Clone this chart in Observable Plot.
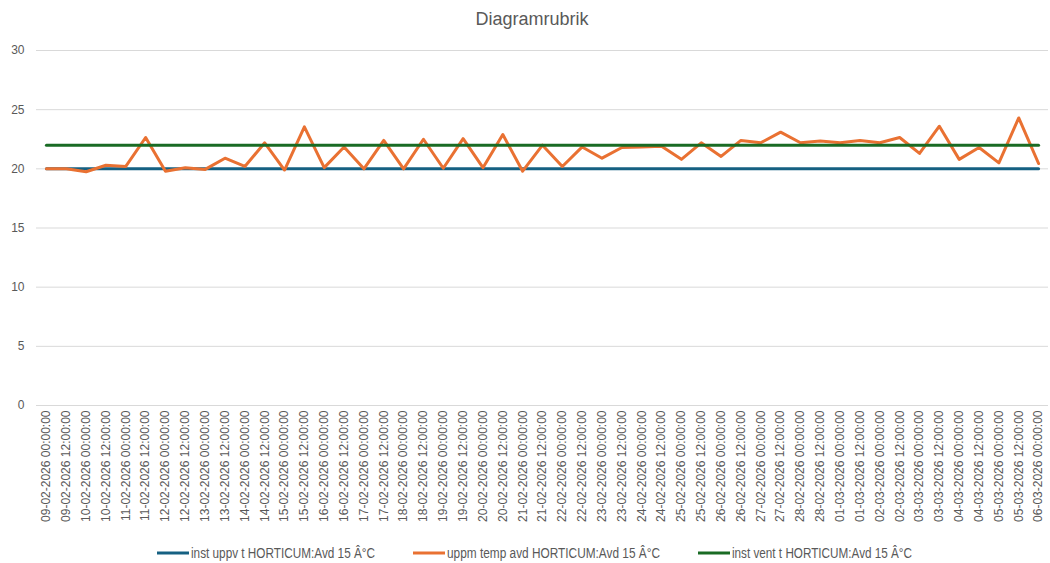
<!DOCTYPE html>
<html>
<head>
<meta charset="utf-8">
<script src="https://cdn.jsdelivr.net/npm/d3@7"></script>
<script src="https://cdn.jsdelivr.net/npm/@observablehq/plot@0.6"></script>
<style>
  html, body { margin: 0; padding: 0; background: #fff; }
  #wrap { position: relative; width: 1050px; height: 563px; overflow: hidden; font-family: "Liberation Sans", Arial, sans-serif; }
  #title { position: absolute; left: 0; top: 0; width: 1064px; height: 36px; line-height: 38px; text-align: center; font-size: 18px; color: #595959; }
  #chart { position: absolute; left: 0; top: 36px; }
  #legend { position: absolute; left: 0; top: 541px; }
</style>
</head>
<body>
<div id="wrap">
  <div id="title">Diagramrubrik</div>
  <div id="chart"></div>
  <div id="legend"></div>
</div>
<script>
// Category labels (every 12 hours)
const categories = [
  "09-02-2026 00:00:00","09-02-2026 12:00:00","10-02-2026 00:00:00","10-02-2026 12:00:00",
  "11-02-2026 00:00:00","11-02-2026 12:00:00","12-02-2026 00:00:00","12-02-2026 12:00:00",
  "13-02-2026 00:00:00","13-02-2026 12:00:00","14-02-2026 00:00:00","14-02-2026 12:00:00",
  "15-02-2026 00:00:00","15-02-2026 12:00:00","16-02-2026 00:00:00","16-02-2026 12:00:00",
  "17-02-2026 00:00:00","17-02-2026 12:00:00","18-02-2026 00:00:00","18-02-2026 12:00:00",
  "19-02-2026 00:00:00","19-02-2026 12:00:00","20-02-2026 00:00:00","20-02-2026 12:00:00",
  "21-02-2026 00:00:00","21-02-2026 12:00:00","22-02-2026 00:00:00","22-02-2026 12:00:00",
  "23-02-2026 00:00:00","23-02-2026 12:00:00","24-02-2026 00:00:00","24-02-2026 12:00:00",
  "25-02-2026 00:00:00","25-02-2026 12:00:00","26-02-2026 00:00:00","26-02-2026 12:00:00",
  "27-02-2026 00:00:00","27-02-2026 12:00:00","28-02-2026 00:00:00","28-02-2026 12:00:00",
  "01-03-2026 00:00:00","01-03-2026 12:00:00","02-03-2026 00:00:00","02-03-2026 12:00:00",
  "03-03-2026 00:00:00","03-03-2026 12:00:00","04-03-2026 00:00:00","04-03-2026 12:00:00",
  "05-03-2026 00:00:00","05-03-2026 12:00:00","06-03-2026 00:00:00"
];

const seriesNames = [
  "inst uppv t HORTICUM:Avd 15 Â°C",
  "uppm temp avd HORTICUM:Avd 15 Â°C",
  "inst vent t HORTICUM:Avd 15 Â°C"
];
const seriesColors = ["#156082", "#E97132", "#196B24"];

// inst uppv t (setpoint heating)
const instUppv = [
  20,20,20,20,20,20,20,20,20,20,20,20,20,20,20,20,20,20,20,20,20,20,20,20,20,20,
  20,20,20,20,20,20,20,20,20,20,20,20,20,20,20,20,20,20,20,20,20,20,20,20,20
];
// uppm temp avd (measured)
const uppmTemp = [
  20.0,20.0,19.75,20.3,20.2,22.65,19.8,20.1,19.95,20.9,20.2,22.2,19.9,23.55,20.1,21.85,
  20.0,22.4,20.0,22.5,20.05,22.55,20.1,22.9,19.8,22.0,20.2,21.85,20.9,21.8,21.85,21.9,
  20.8,22.2,21.05,22.4,22.2,23.1,22.2,22.35,22.2,22.4,22.2,22.65,21.3,23.6,20.8,21.8,
  20.5,24.3,20.45
];
// inst vent t (setpoint ventilation)
const instVent = [
  22,22,22,22,22,22,22,22,22,22,22,22,22,22,22,22,22,22,22,22,22,22,22,22,22,22,
  22,22,22,22,22,22,22,22,22,22,22,22,22,22,22,22,22,22,22,22,22,22,22,22,22
];

const yTicks = [0, 5, 10, 15, 20, 25, 30];

const allSeries = [instUppv, uppmTemp, instVent];
const data = [];
allSeries.forEach((vals, s) => {
  vals.forEach((v, i) => data.push({cat: categories[i], value: v, series: seriesNames[s]}));
});

const chart = Plot.plot({
  width: 1050,
  height: 500,
  marginTop: 14,
  marginBottom: 131,
  marginLeft: 36,
  marginRight: 2,
  style: {fontFamily: "'Liberation Sans', Arial, sans-serif", color: "#595959", background: "#fff"},
  x: {type: "point", domain: categories, padding: 0.5},
  y: {domain: [0, 30]},
  color: {domain: seriesNames, range: seriesColors},
  marks: [
    Plot.ruleY(yTicks, {stroke: "#d9d9d9", strokeWidth: 1}),
    Plot.axisY({ticks: yTicks, tickSize: 0, tickPadding: 12, fontSize: 12, fill: "#595959", label: null}),
    Plot.axisX({tickSize: 0, tickRotate: -90, tickPadding: 5, fontSize: 12, fill: "#595959", label: null}),
    Plot.line(data, {x: "cat", y: "value", z: "series", stroke: "series", strokeWidth: 3, strokeLinejoin: "round", strokeLinecap: "round"})
  ]
});
document.getElementById("chart").appendChild(chart);

// legend (narrow text widths matched with textLength)
const NS = "http://www.w3.org/2000/svg";
const lsvg = document.createElementNS(NS, "svg");
lsvg.setAttribute("width", 1050);
lsvg.setAttribute("height", 22);
const lefts = [157, 413, 698];
const textWidths = [184, 213, 180];
seriesNames.forEach((name, i) => {
  const ln = document.createElementNS(NS, "line");
  ln.setAttribute("x1", lefts[i]);
  ln.setAttribute("x2", lefts[i] + 32);
  ln.setAttribute("y1", 12);
  ln.setAttribute("y2", 12);
  ln.setAttribute("stroke", seriesColors[i]);
  ln.setAttribute("stroke-width", 3);
  lsvg.appendChild(ln);
  const tx = document.createElementNS(NS, "text");
  tx.setAttribute("x", lefts[i] + 34);
  tx.setAttribute("y", 17);
  tx.setAttribute("font-size", 14);
  tx.setAttribute("font-family", "'Liberation Sans', Arial, sans-serif");
  tx.setAttribute("fill", "#595959");
  tx.setAttribute("textLength", textWidths[i]);
  tx.setAttribute("lengthAdjust", "spacingAndGlyphs");
  tx.textContent = name;
  lsvg.appendChild(tx);
});
document.getElementById("legend").appendChild(lsvg);
</script>
</body>
</html>
